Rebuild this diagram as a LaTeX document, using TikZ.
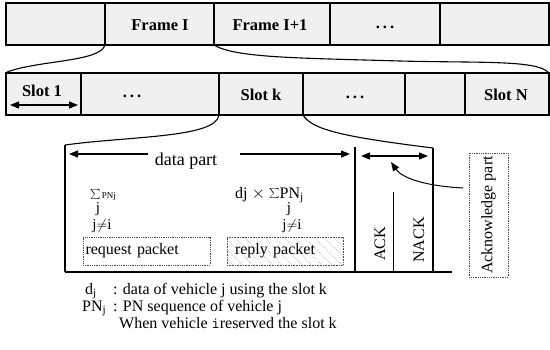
\documentclass[tikz,border=0pt]{standalone}
\usepackage{fontspec}
\setmainfont{Liberation Serif}
\usetikzlibrary{arrows.meta,patterns,patterns.meta}
\begin{document}
\begin{tikzpicture}[x=1pt,y=-1pt,
 font=\fontsize{16}{18}\selectfont,
 bar/.style={draw=black, line width=2.4pt, fill=gray!12},
 divider/.style={line width=1.6pt},
 boldtext/.style={font=\fontsize{16.5}{18}\selectfont\bfseries, inner sep=0pt},
 plain/.style={inner sep=0pt},
 small/.style={inner sep=0pt, font=\fontsize{15}{16}\selectfont},
 link/.style={line width=1.1pt},
 thickline/.style={line width=2.6pt},
 arr/.style={line width=1.2pt, -{Triangle[length=9pt,width=7pt]}},
 dblarr/.style={line width=1.2pt, {Triangle[length=9pt,width=7pt]}-{Triangle[length=9pt,width=7pt]}},
 dbox/.style={draw=gray!60!black, densely dotted, line width=0.8pt},
]
\useasboundingbox (0,0) rectangle (550,349);

% ---------- frame bar ----------
\draw[bar] (6,3) rectangle (549,45);
\foreach \x/\n in {105/a,214/b,330/c,440/d}{
  \coordinate (ft\n) at (\x,3);
  \coordinate (fb\n) at (\x,45);
  \draw[divider] (ft\n) -- (fb\n);
}
\node[boldtext] (frI) at (160,25) {Frame I};
\node[boldtext] (frII) at (270,25) {Frame I+1};
\node[boldtext] (frdots) at (385,27) {.\hspace{3pt}.\hspace{3pt}.};

% ---------- slot bar ----------
\draw[bar] (6,73) rectangle (549,115);
\coordinate (sbl) at (7,72);
\coordinate (sbr) at (548,72);
\foreach \x/\n in {81/a,219/b,303/c,405/d,465/e}{
  \coordinate (st\n) at (\x,73);
  \coordinate (sb\n) at (\x,115);
  \draw[divider] (st\n) -- (sb\n);
}
\node[boldtext] (s1) at (42,91) {Slot 1};
\coordinate (s1l) at (10,105);
\coordinate (s1r) at (78,105);
\draw[dblarr] (s1l) -- (s1r);
\node[boldtext] (sdots1) at (132,96) {.\hspace{3pt}.\hspace{3pt}.};
\node[boldtext] (sk) at (261,95) {Slot k};
\node[boldtext] (sdots2) at (355,97) {.\hspace{3pt}.\hspace{3pt}.};
\node[boldtext] (sN) at (506,95) {Slot N};

% frame -> slot curves
\draw[link] (fba) .. controls (100,62) and (40,60) .. (sbl);
\draw[link] (fbb) .. controls (235,58) and (300,58) .. (400,61)
              .. controls (480,63) and (535,60) .. (sbr);

% ---------- slot k detail ----------
\coordinate (dtl) at (65,145);
\coordinate (dbl) at (65,272);
\coordinate (m1t) at (355,147);
\coordinate (m1b) at (355,272);
\coordinate (m2t) at (433,148);
\coordinate (m2b) at (433,272);
\coordinate (bre) at (452,272);
\draw[link] (sbb) .. controls (216,138) and (130,136) .. (dtl);
\draw[link] (sbc) .. controls (312,130) and (345,137) .. (m2t);
\draw[thickline] (dtl) -- (dbl);
\draw[thickline] (m1t) -- (m1b);
\draw[thickline] (m2t) -- (m2b);
\draw[thickline] (dbl) -- (bre);

% data part arrows
\node[plain, font=\fontsize{18}{20}\selectfont] (dp) at (186,161) {data part};
\coordinate (dpl) at (69,154);
\coordinate (dpr) at (350,154);
\coordinate (dpa) at (148,154);
\coordinate (dpb) at (240,154);
\draw[arr] (dpa) -- (dpl);
\draw[arr] (dpb) -- (dpr);

% ack double arrow
\coordinate (aal) at (361,156);
\coordinate (aar) at (428,156);
\draw[dblarr] (aal) -- (aar);

% ACK / NACK
\coordinate (ackt) at (393,192);
\coordinate (ackb) at (393,272);
\draw[line width=1pt] (ackt) -- (ackb);
\node[plain, rotate=90] (ack) at (380,244) {ACK};
\node[plain, rotate=90] (nack) at (419,240) {NACK};

% Acknowledge part box
\node[dbox, rotate=90, minimum width=124pt, minimum height=39pt, inner sep=0pt] (apbox) at (488.5,215) {Acknowledge part};
\coordinate (cs) at (463,188);
\coordinate (ce) at (391,162);
\draw[line width=1pt, -{Triangle[length=9pt,width=7pt]}] (cs) .. controls (425,186) and (402,178) .. (ce);

% sums
\node[plain, anchor=west] (sum1) at (90,195) {{\fontsize{18}{20}\selectfont$\textstyle\sum$}\hspace{1pt}{\fontsize{9}{10}\selectfont PNj}};
\node[small] (sj1) at (98,209) {j};
\node[small] (sne1) at (102,226) {j$\neq$i};
\node[plain, anchor=west] (sum2) at (235,195) {dj $\times$ $\textstyle\sum$PN\textsubscript{j}};
\node[small] (sj2) at (289,209) {j};
\node[small] (sne2) at (292,226) {j$\neq$i};

% packets
\node[dbox, minimum width=127pt, minimum height=28pt, inner sep=0pt,
      text width=122pt, align=left] (req) at (146.5,251) {request packet};
\node[dbox, pattern={Lines[angle=-45,distance=7pt,line width=0.6pt]}, pattern color=gray!70,
      minimum width=116pt, minimum height=28pt, inner sep=0pt, text width=110pt,
      align=left] (rep) at (285,251) {\hspace{5pt}reply packet};

% legend
\node[plain, anchor=base west] (lg1a) at (85,294) {d\textsubscript{j}};
\node[plain, anchor=base west] (lg1b) at (113,294) {: data of vehicle j using the slot k};
\node[plain, anchor=base west] (lg2a) at (82,311) {PN\textsubscript{j}};
\node[plain, anchor=base west] (lg2b) at (113,311) {: PN sequence of vehicle j};
\node[plain, anchor=base west] (lg3) at (119,328) {When vehicle \texttt{i}reserved the slot k};
\end{tikzpicture}
\end{document}
